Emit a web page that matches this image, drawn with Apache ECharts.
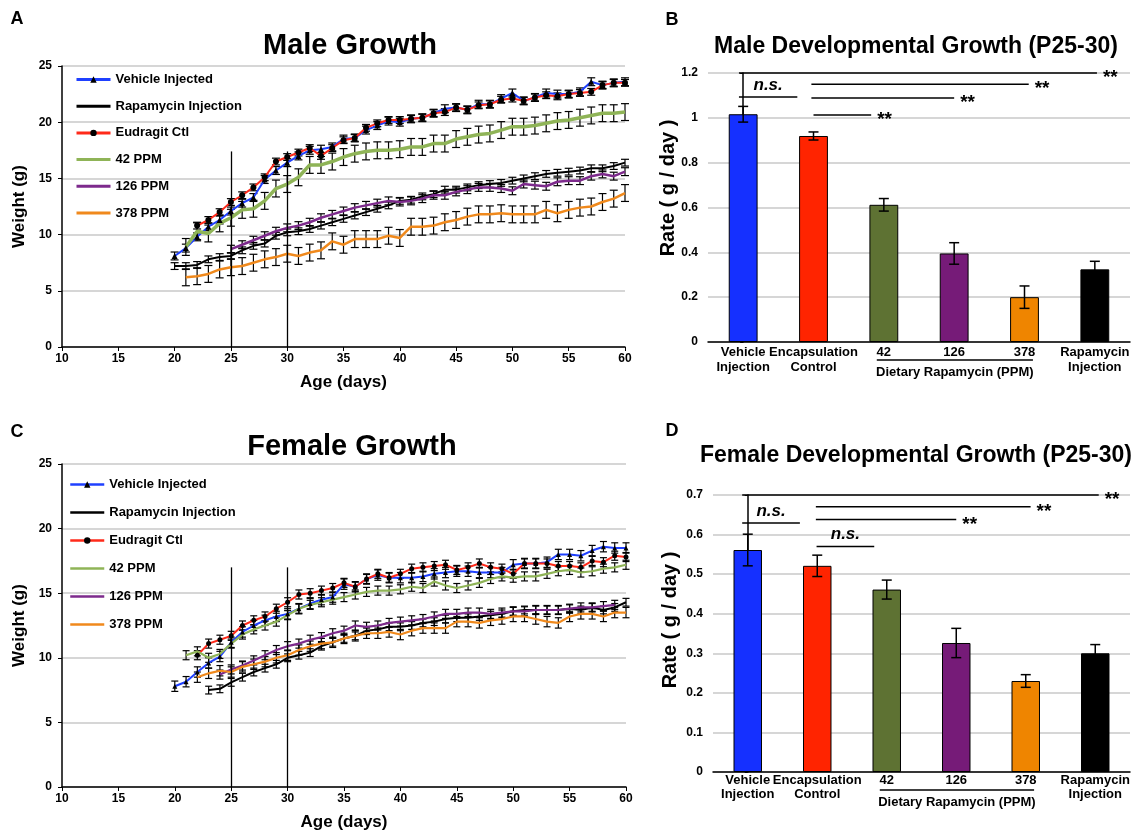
<!DOCTYPE html>
<html>
<head>
<meta charset="utf-8">
<script src="https://cdn.jsdelivr.net/npm/echarts@6/dist/echarts.min.js"></script>
<style>
  html, body { margin: 0; background: #fff; }
  #main { width: 1136px; height: 835px; }
</style>
</head>
<body>
<div id="main"></div>
<script>
// ---- data ----
const days = [20, 21, 22, 23, 24, 25, 26, 27, 28, 29, 30, 31, 32, 33, 34, 35, 36, 37, 38, 39, 40,
              41, 42, 43, 44, 45, 46, 47, 48, 49, 50, 51, 52, 53, 54, 55, 56, 57, 58, 59, 60];
const groupNames = ['Vehicle Injected', 'Rapamycin Injection', 'Eudragit Ctl', '42 PPM', '126 PPM', '378 PPM'];

// male weights (g), one value per day in `days`
const maleVehicle = [8.1, 8.8, 9.8, 10.7, 11.3, 12.1, 12.8, 13.3, 14.9, 15.7, 16.4, 17.0, 17.5, 17.6, 17.8, 18.5, 18.6, 19.3, 19.7, 20.1, 20.0,
  20.3, 20.4, 20.8, 21.2, 21.3, 21.1, 21.6, 21.6, 22.1, 22.6, 21.9, 22.2, 22.6, 22.5, 22.5, 22.7, 23.6, 23.3, 23.5, 23.6];
const maleRapa = [7.2, 7.2, 7.3, 7.8, 8.0, 8.1, 8.6, 9.0, 9.2, 9.9, 10.2, 10.3, 10.5, 10.8, 11.1, 11.4, 11.7, 12.0, 12.3, 12.6, 13.0,
  13.1, 13.4, 13.6, 14.0, 14.0, 14.2, 14.4, 14.5, 14.6, 14.8, 15.0, 15.2, 15.4, 15.5, 15.6, 15.7, 15.9, 15.9, 16.1, 16.4];
const maleEudragit = [null, null, 10.8, 11.3, 12.0, 12.9, 13.5, 14.2, 15.1, 16.5, 16.9, 17.3, 17.7, 17.0, 17.7, 18.4, 18.6, 19.5, 19.9, 20.2, 20.2,
  20.3, 20.4, 20.8, 20.9, 21.3, 21.1, 21.5, 21.6, 22.0, 22.1, 21.9, 22.2, 22.4, 22.3, 22.5, 22.6, 22.7, 23.3, 23.5, 23.5];
const male42 = [null, 8.9, 10.3, 10.1, 11.0, 11.5, 12.2, 12.3, 13.0, 14.1, 14.5, 15.1, 16.2, 16.2, 16.5, 16.9, 17.2, 17.4, 17.5, 17.5, 17.6,
  17.8, 17.8, 18.1, 18.1, 18.5, 18.7, 18.9, 19.0, 19.3, 19.6, 19.6, 19.7, 19.9, 20.1, 20.2, 20.4, 20.6, 20.8, 20.8, 20.9];
const male126 = [null, null, null, null, null, 8.7, 9.1, 9.5, 9.9, 10.3, 10.6, 10.8, 11.1, 11.5, 11.8, 12.1, 12.4, 12.6, 12.8, 13.0, 12.9,
  13.0, 13.2, 13.5, 13.5, 13.8, 14.0, 14.2, 14.2, 14.1, 13.9, 14.5, 14.4, 14.3, 14.7, 14.8, 14.8, 15.2, 15.4, 15.2, 15.6];
const male378 = [null, 6.2, 6.3, 6.5, 6.9, 7.1, 7.2, 7.5, 7.8, 8.0, 8.3, 8.1, 8.4, 8.6, 9.4, 9.1, 9.6, 9.6, 9.6, 9.9, 9.7,
  10.7, 10.7, 10.8, 11.1, 11.3, 11.6, 11.8, 11.8, 11.9, 11.8, 11.8, 11.8, 12.2, 11.9, 12.2, 12.4, 12.5, 12.9, 13.2, 13.7];
const maleSem = [0.35, 0.3, 0.3, 0.75, 0.35, 0.75];

// female weights (g)
const femVehicle = [7.8, 8.15, 8.9, 9.6, 10.1, 11.2, 12.0, 12.5, 12.9, 13.2, 13.4, 13.8, 14.2, 14.5, 14.7, 15.7, 15.5, 16.1, 16.4, 16.2, 16.2,
  16.2, 16.3, 16.5, 16.6, 16.7, 16.7, 16.6, 16.6, 16.6, 17.2, 17.3, 17.3, 17.4, 18.0, 18.0, 17.9, 18.3, 18.6, 18.5, 18.5];
const femRapa = [null, null, null, 7.5, 7.6, 8.1, 8.5, 8.9, 9.2, 9.5, 10.0, 10.2, 10.4, 10.9, 11.2, 11.5, 11.7, 12.1, 12.2, 12.4, 12.4,
  12.5, 12.7, 12.8, 13.0, 13.1, 13.1, 13.2, 13.3, 13.4, 13.6, 13.7, 13.7, 13.7, 13.7, 13.8, 13.7, 13.9, 13.7, 13.9, 14.3];
const femEudragit = [null, null, 10.2, 11.1, 11.4, 11.7, 12.5, 12.9, 13.2, 13.8, 14.3, 14.9, 15.0, 15.2, 15.4, 15.8, 15.5, 16.1, 16.5, 16.2, 16.5,
  16.9, 17.0, 17.1, 17.2, 16.8, 17.0, 17.3, 17.0, 16.9, 16.5, 17.3, 17.3, 17.3, 17.1, 17.1, 17.0, 17.5, 17.4, 17.9, 17.8];
const fem42 = [null, 10.2, 10.5, 10.0, 10.3, 11.1, 11.8, 12.2, 12.5, 12.8, 13.3, 13.8, 14.1, 14.3, 14.5, 14.7, 14.9, 15.1, 15.2, 15.2, 15.3,
  15.5, 15.4, 15.9, 15.6, 15.4, 15.6, 15.8, 16.1, 16.3, 16.2, 16.3, 16.3, 16.5, 16.7, 16.8, 16.6, 16.7, 16.9, 17.0, 17.2];
const fem126 = [null, null, null, null, 8.7, 9.1, 9.4, 9.8, 10.2, 10.6, 10.9, 11.1, 11.4, 11.6, 11.9, 12.1, 12.5, 12.4, 12.5, 12.7, 12.8,
  12.9, 13.0, 13.2, 13.4, 13.4, 13.5, 13.5, 13.4, 13.5, 13.6, 13.6, 13.7, 13.7, 13.7, 13.8, 13.9, 13.9, 14.0, 14.1, null];
const fem378 = [null, null, 8.5, 8.8, 9.0, 8.9, 9.3, 9.5, 9.7, 10.0, 10.2, 10.6, 10.9, 11.1, 11.2, 11.5, 11.7, 11.9, 11.9, 12.0, 11.8,
  12.1, 12.3, 12.3, 12.3, 12.8, 12.8, 12.7, 12.9, 13.0, 13.2, 13.2, 13.0, 12.8, 12.7, 13.2, 13.4, 13.4, 13.2, 13.5, 13.5];
const femSem = [0.4, 0.3, 0.35, 0.35, 0.35, 0.4];

// P25-30 window
const windowDays = [25, 30];

// growth rates (g/day)
const rateCategories = ['Vehicle\nInjection', 'Encapsulation\nControl', '42', '126', '378', 'Rapamycin\nInjection'];
const maleRate = [1.016, 0.919, 0.612, 0.395, 0.2, 0.324];
const maleRateErr = [0.035, 0.018, 0.028, 0.048, 0.05, 0.036];
const femaleRate = [0.561, 0.521, 0.461, 0.326, 0.23, 0.3];
const femaleRateErr = [0.04, 0.027, 0.024, 0.037, 0.016, 0.022];

// significance bars: [from, to, level, label]
const maleSig = [[-0.06, 5.03, 1.2, '**'], [0.97, 4.06, 1.15, '**'], [0.97, 3.0, 1.089, '**'], [1.0, 1.82, 1.013, '**'], [-0.06, 0.77, 1.093, 'n.s.']];
const femaleSig = [[-0.08, 5.05, 0.7, '**'], [0.98, 4.07, 0.67, '**'], [0.98, 3.0, 0.638, '**'], [-0.08, 0.75, 0.629, 'n.s.'], [0.99, 1.82, 0.57, 'n.s.']];
const dietSpan = [1.9, 4.12];

// ---- styles ----
const FONT = "'Liberation Sans', Arial, sans-serif";
const lineColors = ['#1f40ff', '#000000', '#ff2a1a', '#8fb457', '#7d2a8c', '#f0891c'];
const barColors = ['#1530ff', '#ff2400', '#5e7233', '#761b78', '#ef8500', '#000000'];
const grey = '#c8c8c8';

function pairs(values) {
  return days.map((d, i) => [d, values[i]]).filter(p => p[1] != null);
}

function errRender(cap, lw) {
  return function (params, api) {
    const x = api.value(0);
    const lo = api.coord([x, api.value(1)]);
    const hi = api.coord([x, api.value(2)]);
    const st = { stroke: '#000', lineWidth: lw };
    return {
      type: 'group',
      children: [
        { type: 'line', shape: { x1: lo[0], y1: lo[1], x2: hi[0], y2: hi[1] }, style: st },
        { type: 'line', shape: { x1: lo[0] - cap, y1: lo[1], x2: lo[0] + cap, y2: lo[1] }, style: st },
        { type: 'line', shape: { x1: hi[0] - cap, y1: hi[1], x2: hi[0] + cap, y2: hi[1] }, style: st }
      ]
    };
  };
}

function growthSeries(sets, sems, xi, yi, widths, symSize, cap, markTop) {
  const out = [];
  sets.forEach((vals, k) => {
    const pts = pairs(vals);
    out.push({
      type: 'custom', xAxisIndex: xi, yAxisIndex: yi, z: 2, silent: true,
      renderItem: errRender(cap, 1.2),
      encode: { x: 0, y: [1, 2] },
      data: pts.map(p => [p[0], p[1] - sems[k], p[1] + sems[k]])
    });
    const marked = k === 0 || k === 2;
    const s = {
      name: groupNames[k], type: 'line', xAxisIndex: xi, yAxisIndex: yi, z: 3,
      data: pts,
      symbol: k === 0 ? 'triangle' : (k === 2 ? 'circle' : 'none'),
      symbolSize: symSize,
      itemStyle: { color: marked ? '#000' : lineColors[k] },
      lineStyle: { color: lineColors[k], width: widths[k] },
      emphasis: { disabled: true },
      silent: true
    };
    if (k === 0) {
      s.markLine = {
        silent: true, symbol: ['none', 'none'], label: { show: false },
        lineStyle: { color: '#000', width: 1.3, type: 'solid' },
        data: windowDays.map(d => [{ coord: [d, 0] }, { coord: [d, markTop] }])
      };
    }
    out.push(s);
  });
  return out;
}

function barSeries(values, errs, xi, xv, yi, sig) {
  return [
    {
      type: 'bar', xAxisIndex: xi, yAxisIndex: yi, barWidth: '41%', silent: true,
      data: values.map((v, i) => ({ value: v, itemStyle: { color: barColors[i], borderColor: '#000', borderWidth: 1 } }))
    },
    {
      type: 'custom', xAxisIndex: xi, yAxisIndex: yi, z: 5, silent: true,
      renderItem: errRender(5, 1.5),
      encode: { x: 0, y: [1, 2] },
      data: values.map((v, i) => [i, v - errs[i], v + errs[i]])
    },
    {
      type: 'custom', xAxisIndex: xv, yAxisIndex: yi, z: 5, silent: true,
      encode: { x: [0, 1], y: 2 },
      data: sig.map(s => [s[0], s[1], s[2]]),
      renderItem: function (params, api) {
        const s = sig[params.dataIndex];
        const a = api.coord([s[0], s[2]]);
        const b = api.coord([s[1], s[2]]);
        const line = { type: 'line', shape: { x1: a[0], y1: a[1], x2: b[0], y2: b[1] }, style: { stroke: '#000', lineWidth: 1.5 } };
        const txt = s[3] === '**'
          ? { type: 'text', x: b[0] + 6, y: a[1] + 5, style: { text: '**', font: 'bold 19px ' + FONT, fill: '#000', textAlign: 'left', align: 'left', textVerticalAlign: 'middle', verticalAlign: 'middle' } }
          : { type: 'text', x: (a[0] + b[0]) / 2, y: a[1] - 12, style: { text: 'n.s.', font: 'italic bold 17px ' + FONT, fill: '#000', textAlign: 'center', align: 'center', textVerticalAlign: 'middle', verticalAlign: 'middle' } };
        return { type: 'group', children: [line, txt] };
      }
    },
    {
      type: 'custom', xAxisIndex: xv, yAxisIndex: yi, z: 5, silent: true,
      encode: { x: [0, 1] },
      data: [[dietSpan[0], dietSpan[1], 0]],
      renderItem: function (params, api) {
        const a = api.coord([dietSpan[0], 0]);
        const b = api.coord([dietSpan[1], 0]);
        return {
          type: 'group', children: [
            { type: 'line', shape: { x1: a[0], y1: a[1] + 18, x2: b[0], y2: b[1] + 18 }, style: { stroke: '#000', lineWidth: 1.5 } },
            { type: 'text', x: (a[0] + b[0]) / 2, y: a[1] + 30, style: { text: 'Dietary Rapamycin (PPM)', font: 'bold 13px ' + FONT, fill: '#000', textAlign: 'center', align: 'center', textVerticalAlign: 'middle', verticalAlign: 'middle' } }
          ]
        };
      }
    }
  ];
}

function ageAxis(grid) {
  return {
    gridIndex: grid, type: 'value', min: 10, max: 60, interval: 5,
    axisLine: { show: true, lineStyle: { color: '#000', width: 1.5 } },
    axisTick: { show: true, length: 4, lineStyle: { color: '#000' } },
    axisLabel: { color: '#000', fontWeight: 'bold', fontSize: 12, fontFamily: FONT, margin: 6 },
    splitLine: { show: false },
    name: 'Age (days)', nameLocation: 'middle', nameGap: 27,
    nameTextStyle: { color: '#000', fontWeight: 'bold', fontSize: 17, fontFamily: FONT }
  };
}
function weightAxis(grid) {
  return {
    gridIndex: grid, type: 'value', min: 0, max: 25, interval: 5,
    axisLine: { show: true, lineStyle: { color: '#000', width: 1.5 } },
    axisTick: { show: true, length: 4, lineStyle: { color: '#000' } },
    axisLabel: { color: '#000', fontWeight: 'bold', fontSize: 12, fontFamily: FONT, margin: 10 },
    splitLine: { lineStyle: { color: grey, width: 1.5 } },
    name: 'Weight (g)', nameLocation: 'middle', nameGap: 34,
    nameTextStyle: { color: '#000', fontWeight: 'bold', fontSize: 17, fontFamily: FONT }
  };
}
function catAxis(grid, margin, lh) {
  return {
    gridIndex: grid, type: 'category', data: rateCategories,
    axisLine: { show: true, lineStyle: { color: '#000', width: 1.5 } },
    axisTick: { show: false },
    axisLabel: { interval: 0, color: '#000', fontWeight: 'bold', fontSize: 13, fontFamily: FONT, margin: margin, lineHeight: lh }
  };
}
function hiddenAxis(grid) {
  return { gridIndex: grid, type: 'value', min: -0.5, max: 5.5, show: false };
}
function rateAxis(grid, max) {
  return {
    gridIndex: grid, type: 'value', min: 0, max: max, interval: 0.1 * (max > 1 ? 2 : 1),
    axisLine: { show: true, lineStyle: { color: '#000', width: 1.5 } },
    axisTick: { show: true, length: 3, lineStyle: { color: '#000' } },
    axisLabel: { color: '#000', fontWeight: 'bold', fontSize: 12, fontFamily: FONT, margin: 10 },
    splitLine: { lineStyle: { color: grey, width: 1.5 } }
  };
}
function legendAt(left, top, gap, lw) {
  return {
    orient: 'vertical', left: left, top: top, itemWidth: 34, itemHeight: 8, itemGap: gap,
    // plain lines get no marker in the key
    data: groupNames.map((n, k) => (k === 0 || k === 2) ? { name: n } : { name: n, itemStyle: { opacity: 0 } }),
    selectedMode: false,
    lineStyle: { width: lw },
    textStyle: { color: '#000', fontWeight: 'bold', fontSize: 13, fontFamily: FONT }
  };
}
function label(text, x, y, font, rot) {
  return {
    type: 'text', x: x, y: y, rotation: rot || 0, silent: true,
    style: { text: text, font: font + ' ' + FONT, fill: '#000', textAlign: 'center', align: 'center', textVerticalAlign: 'middle', verticalAlign: 'middle' }
  };
}

const chart = echarts.init(document.getElementById('main'), null, { renderer: 'canvas' });

const option = {
  animation: false,
  backgroundColor: '#fff',
  grid: [
    { left: 62, top: 66, width: 563, height: 281, outerBoundsMode: 'none' },
    { left: 708, top: 73, width: 422, height: 269, outerBoundsMode: 'none' },
    { left: 62, top: 464, width: 564, height: 323, outerBoundsMode: 'none' },
    { left: 713, top: 495, width: 417, height: 277, outerBoundsMode: 'none' }
  ],
  xAxis: [ageAxis(0), catAxis(1, 3, 15), hiddenAxis(1), ageAxis(2), catAxis(3, 1, 14), hiddenAxis(3)],
  yAxis: [weightAxis(0), rateAxis(1, 1.2), weightAxis(2), rateAxis(3, 0.7)],
  legend: [legendAt(70, 68, 13.7, 3), legendAt(64, 473, 15, 2.5)],
  graphic: [
    label('A', 17, 19, 'bold 18px'),
    label('B', 672, 20, 'bold 18px'),
    label('C', 17, 432, 'bold 18px'),
    label('D', 672, 431, 'bold 18px'),
    label('Male Growth', 350, 46, 'bold 29px'),
    label('Female Growth', 352, 447, 'bold 29px'),
    label('Male Developmental Growth (P25-30)', 916, 47, 'bold 23px'),
    label('Female Developmental Growth (P25-30)', 916, 456, 'bold 23px'),
    label('Rate ( g / day )', 668, 188, 'bold 20px', Math.PI / 2),
    label('Rate ( g / day )', 670, 620, 'bold 20px', Math.PI / 2)
  ],
  series: [].concat(
    growthSeries([maleVehicle, maleRapa, maleEudragit, male42, male126, male378], maleSem, 0, 0, [2, 2, 2, 3.5, 2.5, 2.5], 6, 4, 17.4),
    growthSeries([femVehicle, femRapa, femEudragit, fem42, fem126, fem378], femSem, 3, 2, [2, 2, 2, 2.2, 2.2, 2.2], 5, 3.5, 17),
    barSeries(maleRate, maleRateErr, 1, 2, 1, maleSig),
    barSeries(femaleRate, femaleRateErr, 4, 5, 3, femaleSig)
  )
};

chart.setOption(option);
window.onresize = () => chart.resize();
</script>
</body>
</html>
